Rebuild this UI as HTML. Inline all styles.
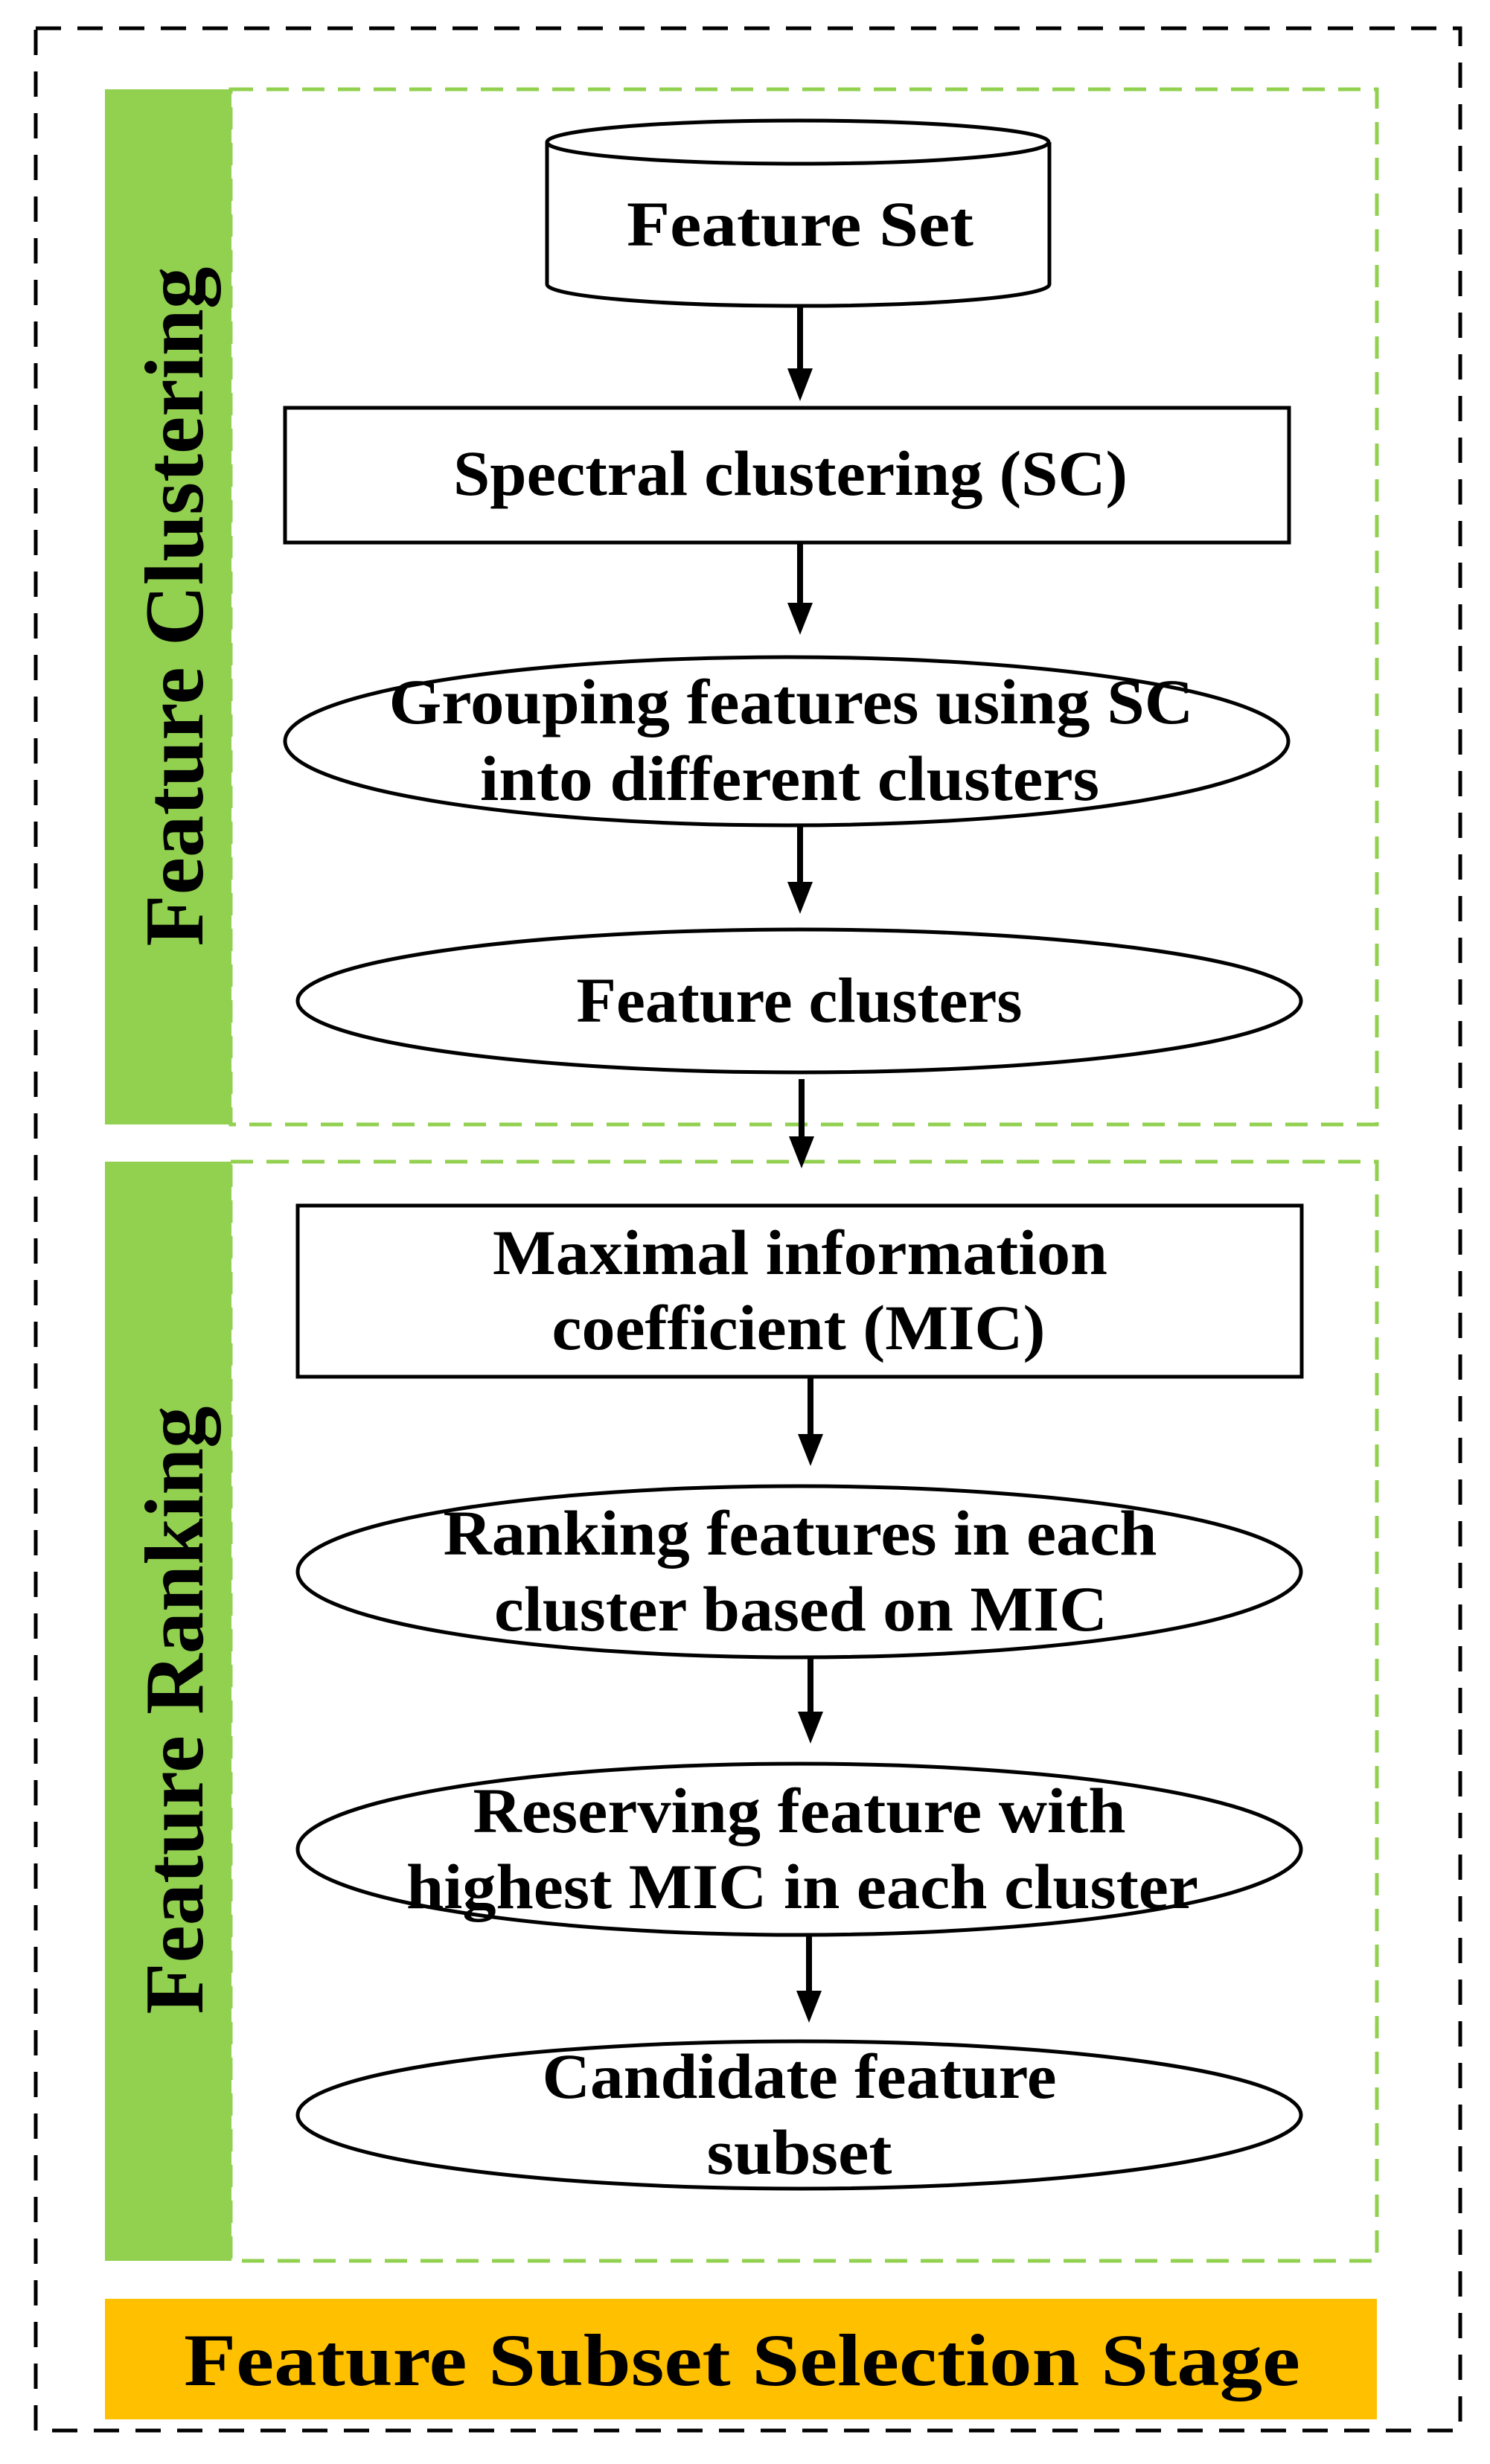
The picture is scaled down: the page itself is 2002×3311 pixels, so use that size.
<!DOCTYPE html>
<html><head><style>html,body{margin:0;padding:0;background:#fff}</style></head>
<body>
<svg width="2002" height="3306" viewBox="0 0 2002 3306" xmlns="http://www.w3.org/2000/svg" font-family="'Liberation Serif', serif" font-weight="bold">
<rect x="0" y="0" width="2002" height="3306" fill="#fff"/>
<rect x="48" y="38" width="1914" height="3228" fill="none" stroke="#000" stroke-width="5" stroke-dasharray="34,22"/>
<rect x="141" y="120" width="170" height="1391" fill="#92d050"/>
<rect x="141" y="1561" width="170" height="1477" fill="#92d050"/>
<rect x="310" y="120" width="1540" height="1391" fill="none" stroke="#92d050" stroke-width="5" stroke-dasharray="30,18"/>
<rect x="310" y="1561" width="1540" height="1477" fill="none" stroke="#92d050" stroke-width="5" stroke-dasharray="30,18"/>
<text transform="translate(272,815) rotate(-90)" font-size="112" text-anchor="middle" textLength="913" lengthAdjust="spacingAndGlyphs">Feature Clustering</text>
<text transform="translate(272,2298) rotate(-90)" font-size="112" text-anchor="middle" textLength="817" lengthAdjust="spacingAndGlyphs">Feature Ranking</text>
<rect x="141" y="3089" width="1709" height="162" fill="#ffc000"/>
<text x="997" y="3205" font-size="100" text-anchor="middle" textLength="1500" lengthAdjust="spacingAndGlyphs">Feature Subset Selection Stage</text>
<path d="M735,191 L735,382 A337,29 0 0 0 1410,382 L1410,191" fill="#fff" stroke="#000" stroke-width="5"/>
<ellipse cx="1072" cy="191" rx="337" ry="29" fill="#fff" stroke="#000" stroke-width="5"/>
<g font-size="86" text-anchor="middle" lengthAdjust="spacingAndGlyphs">
<text x="1075" y="330" textLength="466" lengthAdjust="spacingAndGlyphs">Feature Set</text>
<rect x="383" y="548" width="1349" height="181" fill="#fff" stroke="#000" stroke-width="5"/>
<text x="1062" y="665" textLength="906" lengthAdjust="spacingAndGlyphs">Spectral clustering (SC)</text>
<ellipse cx="1057" cy="996" rx="674" ry="113" fill="#fff" stroke="#000" stroke-width="5"/>
<text x="1063" y="972" textLength="1081" lengthAdjust="spacingAndGlyphs">Grouping features using SC</text>
<text x="1061" y="1075" textLength="832" lengthAdjust="spacingAndGlyphs">into different clusters</text>
<ellipse cx="1074" cy="1345" rx="674" ry="96" fill="#fff" stroke="#000" stroke-width="5"/>
<text x="1074" y="1373" textLength="599" lengthAdjust="spacingAndGlyphs">Feature clusters</text>
<rect x="400" y="1620" width="1349" height="230" fill="#fff" stroke="#000" stroke-width="5"/>
<text x="1075" y="1712" textLength="826" lengthAdjust="spacingAndGlyphs">Maximal information</text>
<text x="1073" y="1813" textLength="663" lengthAdjust="spacingAndGlyphs">coefficient (MIC)</text>
<ellipse cx="1074" cy="2112" rx="674" ry="115" fill="#fff" stroke="#000" stroke-width="5"/>
<text x="1075" y="2089" textLength="959" lengthAdjust="spacingAndGlyphs">Ranking features in each</text>
<text x="1076" y="2191" textLength="824" lengthAdjust="spacingAndGlyphs">cluster based on MIC</text>
<ellipse cx="1074" cy="2485" rx="674" ry="115" fill="#fff" stroke="#000" stroke-width="5"/>
<text x="1074" y="2462" textLength="877" lengthAdjust="spacingAndGlyphs">Reserving feature with</text>
<text x="1078" y="2564" textLength="1064" lengthAdjust="spacingAndGlyphs">highest MIC in each cluster</text>
<ellipse cx="1074" cy="2842" rx="674" ry="99" fill="#fff" stroke="#000" stroke-width="5"/>
<text x="1074" y="2819" textLength="691" lengthAdjust="spacingAndGlyphs">Candidate feature</text>
<text x="1074" y="2921" textLength="249" lengthAdjust="spacingAndGlyphs">subset</text>
</g>
<g stroke="#000" stroke-width="8" fill="#000">
<line x1="1075" y1="411" x2="1075" y2="500"/><polygon points="1058,495 1092,495 1075,539" stroke="none"/>
<line x1="1075" y1="729" x2="1075" y2="815"/><polygon points="1058,810 1092,810 1075,853" stroke="none"/>
<line x1="1075" y1="1110" x2="1075" y2="1190"/><polygon points="1058,1185 1092,1185 1075,1228" stroke="none"/>
<line x1="1077" y1="1450" x2="1077" y2="1532"/><polygon points="1060,1527 1094,1527 1077,1570" stroke="none"/>
<line x1="1089" y1="1850" x2="1089" y2="1932"/><polygon points="1072,1927 1106,1927 1089,1970" stroke="none"/>
<line x1="1089" y1="2227" x2="1089" y2="2305"/><polygon points="1072,2300 1106,2300 1089,2343" stroke="none"/>
<line x1="1087" y1="2600" x2="1087" y2="2680"/><polygon points="1070,2675 1104,2675 1087,2718" stroke="none"/>
</g>
</svg>
</body></html>
